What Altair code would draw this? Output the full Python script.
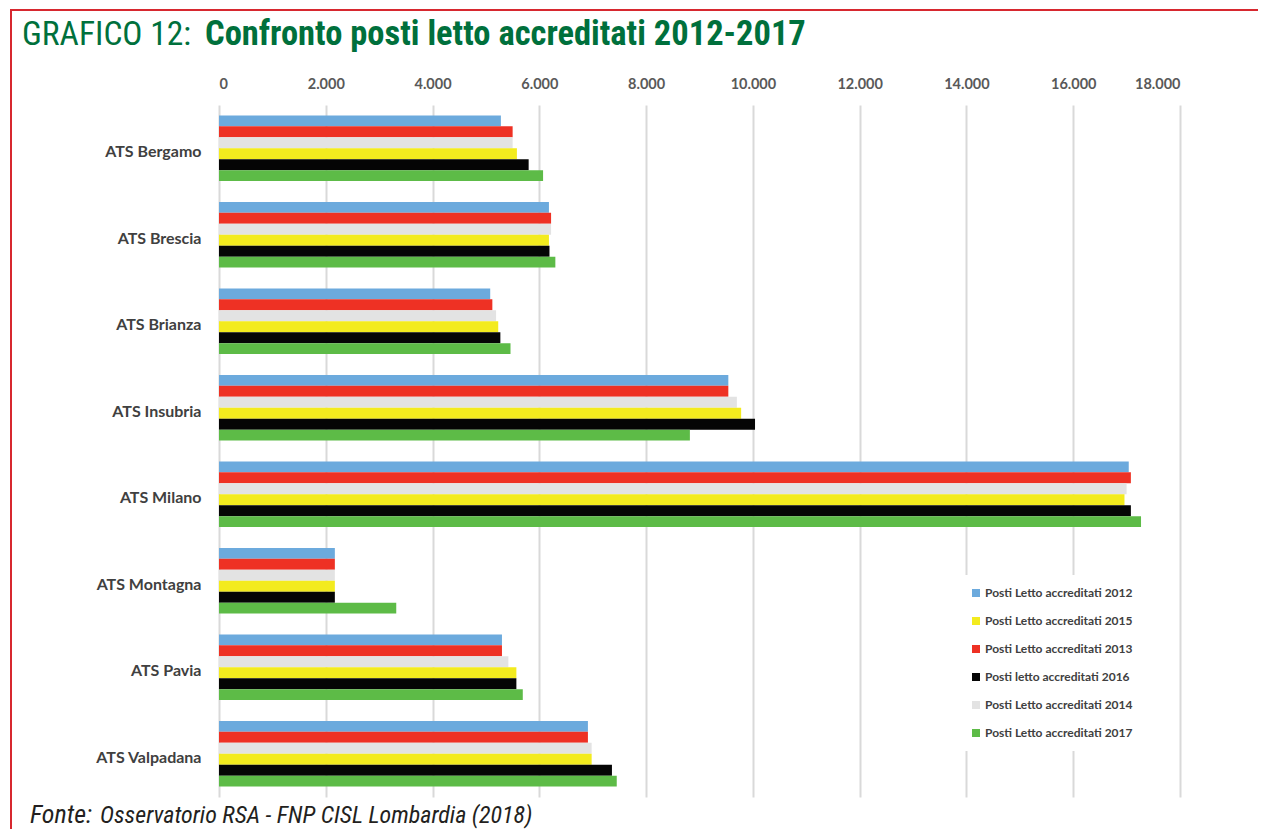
import altair as alt
import pandas as pd

ats = ["ATS Bergamo", "ATS Brescia", "ATS Brianza", "ATS Insubria",
       "ATS Milano", "ATS Montagna", "ATS Pavia", "ATS Valpadana"]

series = ["Posti Letto accreditati 2012", "Posti Letto accreditati 2013",
          "Posti Letto accreditati 2014", "Posti Letto accreditati 2015",
          "Posti letto accreditati 2016", "Posti Letto accreditati 2017"]

v2012 = [5280, 6180, 5080, 9540, 17040, 2170, 5300, 6910]
v2013 = [5500, 6220, 5120, 9540, 17080, 2170, 5300, 6910]
v2014 = [5500, 6220, 5190, 9700, 17000, 2170, 5420, 6980]
v2015 = [5580, 6180, 5230, 9780, 16960, 2170, 5570, 6980]
v2016 = [5800, 6190, 5270, 10040, 17080, 2170, 5570, 7360]
v2017 = [6070, 6300, 5460, 8820, 17270, 3320, 5690, 7450]

colors = {
    "Posti Letto accreditati 2012": "#6caadd",
    "Posti Letto accreditati 2013": "#ee3124",
    "Posti Letto accreditati 2014": "#e3e3e3",
    "Posti Letto accreditati 2015": "#f3eb1e",
    "Posti letto accreditati 2016": "#050505",
    "Posti Letto accreditati 2017": "#5dbb47",
}
legend_order = [series[0], series[3], series[1], series[4], series[2], series[5]]

rows = []
for s, vals in zip(series, [v2012, v2013, v2014, v2015, v2016, v2017]):
    for a, v in zip(ats, vals):
        rows.append({"ats": a, "serie": s, "valore": v})
df = pd.DataFrame(rows)

W, H = 961, 692
FONT = "Lato"
NARROW = "Liberation Sans Narrow, Roboto Condensed, Roboto"
GREEN = "#00703c"

bars = alt.Chart(df).mark_bar().encode(
    x=alt.X("valore:Q",
            scale=alt.Scale(domain=[0, 18000], nice=False),
            axis=alt.Axis(orient="top", title=None, domain=False, ticks=False,
                          values=list(range(0, 18001, 2000)),
                          labelExpr="replace(format(datum.value, ','), ',', '.')",
                          labelFont=FONT, labelFontWeight="bold", labelFontSize=14.5,
                          labelColor="#595959", labelPadding=14,
                          grid=True, gridColor="#d9d9d9", gridWidth=2)),
    y=alt.Y("ats:N", sort=ats,
            scale=alt.Scale(paddingInner=0.24, paddingOuter=0.12),
            axis=alt.Axis(title=None, domain=False, ticks=False, grid=False,
                          labelFont=FONT, labelFontWeight="bold", labelFontSize=16,
                          labelColor="#404040", labelPadding=18, labelOffset=4)),
    yOffset=alt.YOffset("serie:N", sort=series),
    color=alt.Color("serie:N",
                    scale=alt.Scale(domain=legend_order,
                                    range=[colors[s] for s in legend_order]),
                    legend=alt.Legend(title=None, orient="none", legendX=739, legendY=470,
                                      direction="vertical", fillColor="white", padding=12,
                                      symbolType="square", symbolSize=64,
                                      symbolStrokeWidth=0, symbolOpacity=1,
                                      labelFont=FONT, labelFontWeight="bold",
                                      labelFontSize=12, labelColor="#404040",
                                      rowPadding=16, labelOffset=3)),
)

t1 = alt.Chart(pd.DataFrame({"t": ["GRAFICO 12:"]})).mark_text(
    align="left", baseline="alphabetic", font=NARROW, fontSize=33.5, color=GREEN
).encode(x=alt.value(-197), y=alt.value(-60), text="t:N")

t2 = alt.Chart(pd.DataFrame({"t": ["Confronto posti letto accreditati 2012-2017"]})).mark_text(
    align="left", baseline="alphabetic", font=NARROW, fontSize=34.5, fontWeight="bold", color=GREEN
).encode(x=alt.value(-14), y=alt.value(-60), text="t:N")

f1 = alt.Chart(pd.DataFrame({"t": ["Fonte:"]})).mark_text(
    align="left", baseline="alphabetic", font=NARROW, fontSize=26, fontStyle="italic",
    color="#231f20"
).encode(x=alt.value(-189), y=alt.value(718), text="t:N")

f2 = alt.Chart(pd.DataFrame({"t": ["Osservatorio RSA - FNP CISL Lombardia (2018)"]})).mark_text(
    align="left", baseline="alphabetic", font=NARROW, fontSize=24, fontStyle="italic",
    color="#231f20"
).encode(x=alt.value(-119), y=alt.value(718), text="t:N")

border = alt.Chart(pd.DataFrame({"k": [0]})).mark_rect(
    fill=None, fillOpacity=0, stroke="#d7282f", strokeWidth=2
).encode(x=alt.value(-208), x2=alt.value(1070), y=alt.value(-95), y2=alt.value(760))

chart = alt.layer(bars, t1, t2, f1, f2, border).properties(
    width=W, height=H,
    background="white",
    autosize=alt.AutoSizeParams(type="none"),
    padding={"left": 211, "top": 97, "right": 78, "bottom": 32},
).configure_view(stroke=None)

chart.save("out.html", embed_options={"renderer": "svg", "actions": False})
